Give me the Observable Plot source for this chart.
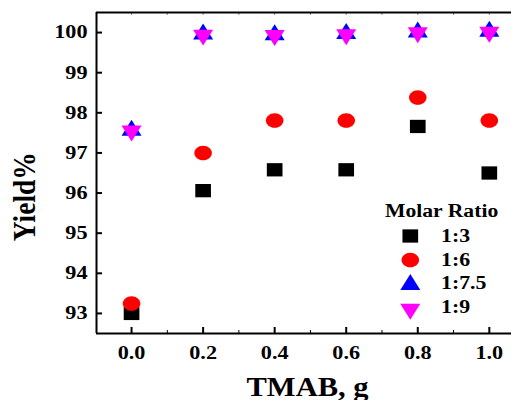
<!DOCTYPE html>
<html>
<head>
<meta charset="utf-8">
<script src="https://cdn.jsdelivr.net/npm/d3@7"></script>
<script src="https://cdn.jsdelivr.net/npm/@observablehq/plot@0.6"></script>
<style>
  html, body { margin: 0; padding: 0; background: #fff; }
  #chart { width: 511px; height: 400px; overflow: hidden; }
</style>
</head>
<body>
<div id="chart"></div>
<script>
// ---- data ----
const tmab = [0.0, 0.2, 0.4, 0.6, 0.8, 1.0];
const ratios = ["1:3", "1:6", "1:7.5", "1:9"];
const yield13 = [93.0, 96.06, 96.58, 96.58, 97.66, 96.5];
const yield16 = [93.25, 97.0, 97.81, 97.81, 98.38, 97.81];
const yield175 = [97.56, 99.96, 99.94, 99.97, 100.01, 100.03];
const yield19 = [97.55, 99.94, 99.93, 99.95, 100.0, 100.01];
const xTicks = [0.0, 0.2, 0.4, 0.6, 0.8, 1.0];
const xMinorTicks = [0.1, 0.3, 0.5, 0.7, 0.9];
const xAllTicks = [0.0, 0.1, 0.2, 0.3, 0.4, 0.5, 0.6, 0.7, 0.8, 0.9, 1.0];
const yTicks = [93, 94, 95, 96, 97, 98, 99, 100];
const xTitle = "TMAB, g";
const yTitle = "Yield%";
const legendTitle = "Molar Ratio";

const colors = {"1:3": "#000000", "1:6": "#ff0000", "1:7.5": "#0000ff", "1:9": "#ff00ff"};

// ---- stretched symbols ----
const rOf = size => Math.sqrt(size / Math.PI);
const rectSym = {draw(c, size) {
  const r = rOf(size), w = 2.09 * r / 2, h = 1.77 * r / 2;
  c.moveTo(-w, -h); c.lineTo(w, -h); c.lineTo(w, h); c.lineTo(-w, h); c.closePath();
}};
const ellipseSym = {draw(c, size) {
  const r = rOf(size), rx = 1.17 * r, ry = 0.97 * r, k = 0.5523;
  c.moveTo(rx, 0);
  c.bezierCurveTo(rx, k * ry, k * rx, ry, 0, ry);
  c.bezierCurveTo(-k * rx, ry, -rx, k * ry, -rx, 0);
  c.bezierCurveTo(-rx, -k * ry, -k * rx, -ry, 0, -ry);
  c.bezierCurveTo(k * rx, -ry, rx, -k * ry, rx, 0);
  c.closePath();
}};
const triUpSym = {draw(c, size) {
  const r = rOf(size), w = 2.67 * r / 2, h = 2.13 * r;
  c.moveTo(0, -2 * h / 3); c.lineTo(w, h / 3); c.lineTo(-w, h / 3); c.closePath();
}};
const triDownSym = {draw(c, size) {
  const r = rOf(size), w = 2.67 * r / 2, h = 2.13 * r;
  c.moveTo(0, 2 * h / 3); c.lineTo(w, -h / 3); c.lineTo(-w, -h / 3); c.closePath();
}};
const symbols = {"1:3": rectSym, "1:6": ellipseSym, "1:7.5": triUpSym, "1:9": triDownSym};
const R = 7.5;

const series = {"1:3": yield13, "1:6": yield16, "1:7.5": yield175, "1:9": yield19};
const xDomain = [-0.098, 1.062];
const yDomain = [92.5, 100.5];

const H = 400, W = 511, mL = 96, mT = 12, mB = 67;
const frameH = H - mT - mB, frameW = W - mL;

const dotMarks = ratios.map(k => Plot.dot(tmab.map((x, i) => ({x, y: series[k][i]})), {
  x: "x", y: "y", r: R, symbol: symbols[k], fill: colors[k], stroke: "none"
}));

const plot = Plot.plot({
  width: W, height: H,
  marginLeft: mL, marginRight: 0, marginTop: mT, marginBottom: mB,
  x: {domain: xDomain, label: null},
  y: {domain: yDomain, label: null},
  style: {fontFamily: "'Liberation Serif', 'Times New Roman', serif", fontWeight: "bold", fontSize: "18.5px", color: "#000", background: "#fff"},
  marks: [
    Plot.axisX(xTicks, {tickSize: 0, tickPadding: 12, tickFormat: d3.format(".1f")}),
    Plot.axisY(yTicks, {tickSize: 0, tickPadding: 9, tickFormat: d3.format("d")}),
    // inward ticks
    Plot.ruleX(xTicks, {x: d => d, insetTop: frameH - 6, strokeWidth: 2, stroke: "#000"}),
    Plot.ruleX(xMinorTicks, {x: d => d, insetTop: frameH - 3, strokeWidth: 1, stroke: "#000"}),
    Plot.ruleX(xAllTicks, {x: d => d, insetBottom: frameH - 3, strokeWidth: 1, stroke: "#888"}),
    Plot.ruleY(yTicks, {y: d => d, insetRight: frameW - 6, strokeWidth: 2, stroke: "#000"}),
    // frame lines
    Plot.ruleY([yDomain[0]], {strokeWidth: 2, stroke: "#000"}),
    Plot.ruleY([yDomain[1]], {strokeWidth: 2, stroke: "#000"}),
    Plot.ruleX([xDomain[0]], {strokeWidth: 2, stroke: "#000"}),
    ...dotMarks
  ]
});

// stretch tick labels horizontally to match the reference typeface
plot.querySelectorAll('[aria-label="x-axis tick label"] text, [aria-label="y-axis tick label"] text')
  .forEach(t => {
    const tr = t.getAttribute("transform") || "";
    t.setAttribute("transform", `${tr} scale(1.2,1)`);
  });

const svg = d3.select(plot);
// axis titles
svg.append("text")
  .attr("transform", `translate(307.5,396) scale(1.13,1)`)
  .attr("text-anchor", "middle")
  .style("font-size", "27px")
  .text(xTitle);
svg.append("text")
  .attr("transform", `translate(35,196.7) scale(1.18,1) rotate(-90)`)
  .attr("text-anchor", "middle")
  .style("font-size", "27.5px")
  .text(yTitle);

// legend
const lg = svg.append("g").attr("aria-label", "legend").attr("text-anchor", "start");
lg.append("text")
  .attr("transform", `translate(385,216.7) scale(1.14,1)`)
  .style("font-size", "19px")
  .text(legendTitle);
const legendY = [236, 260, 284.7, 309];
const labelY = [241.7, 265.7, 289.3, 313.3];
ratios.forEach((k, i) => {
  lg.append("path")
    .attr("transform", `translate(410.3,${legendY[i]})`)
    .attr("d", d3.symbol(symbols[k], Math.PI * R * R)())
    .attr("fill", colors[k]);
  lg.append("text")
    .attr("transform", `translate(441,${labelY[i]}) scale(1.15,1)`)
    .style("font-size", "19px")
    .text(k);
});

document.getElementById("chart").appendChild(plot);
</script>
</body>
</html>
